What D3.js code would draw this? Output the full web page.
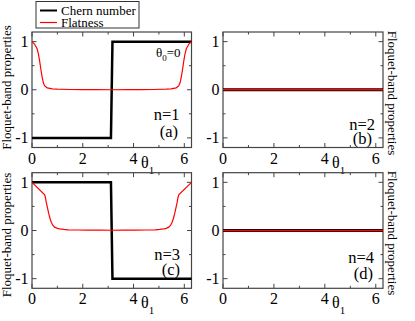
<!DOCTYPE html>
<html>
<head>
<meta charset="utf-8">
<script src="https://cdn.jsdelivr.net/npm/d3@7"></script>
<style>
  body { margin: 0; background: #fff; }
</style>
</head>
<body>
<script>
// datos
var xTicks = [0, 2, 4, 6];
var xMinor = [1, 3, 5];
var yTicks = [-1, 0, 1];
var yMinor = [-0.5, 0.5];

var thetaChern = [0, 3.11, 3.17, 6.283];
var chernN1 = [-1, -1, 1, 1];
var chernN3 = [1, 1, -1, -1];

var thetaZero = [0, 6.283];
var chernN2 = [0, 0];
var flatN2 = [0, 0];
var chernN4 = [0, 0];
var flatN4 = [0, 0];

var thetaN1 = [0, 0.1, 0.2, 0.25, 0.3, 0.35, 0.4, 0.45, 0.5, 0.6, 0.8, 1.0, 1.5, 2.0, 2.5, 3.14,
               3.78, 4.28, 4.78, 5.28, 5.48, 5.68, 5.78, 5.83, 5.88, 5.93, 5.98, 6.03, 6.08, 6.18, 6.283];
var flatN1 = [1.0, 0.95, 0.85, 0.75, 0.6, 0.42, 0.26, 0.14, 0.08, 0.04, 0.02, 0.012, 0.005, 0.002, 0.001, 0.0,
              0.001, 0.002, 0.005, 0.012, 0.02, 0.04, 0.08, 0.14, 0.26, 0.42, 0.6, 0.75, 0.85, 0.95, 1.0];

var thetaN3 = [0, 0.5, 0.53, 0.56, 0.61, 0.66, 0.71, 0.76, 0.82, 0.89, 1.0, 1.09, 1.25, 1.42, 1.8, 2.2, 2.7, 3.14,
               3.58, 4.08, 4.48, 4.86, 5.03, 5.19, 5.28, 5.39, 5.46, 5.52, 5.57, 5.62, 5.67, 5.72, 5.75, 5.78, 6.283];
var flatN3 = [1, 0.74, 0.68, 0.59, 0.47, 0.35, 0.25, 0.17, 0.11, 0.07, 0.045, 0.035, 0.022, 0.015, 0.01, 0.008, 0.006, 0.005,
              0.006, 0.008, 0.01, 0.015, 0.022, 0.035, 0.045, 0.07, 0.11, 0.17, 0.25, 0.35, 0.47, 0.59, 0.68, 0.74, 1];

var nLabels = ["n=1", "n=2", "n=3", "n=4"];
var panelLabels = ["(a)", "(b)", "(c)", "(d)"];
var legendNames = ["Chern number", "Flatness"];
var yTitle = "Floquet-band properties";

// paneles
var paneles = [
  { x0: 32, x1: 191.5, y0: 32, y1: 147.5, tc: thetaChern, c: chernN1, tf: thetaN1, f: flatN1,
    nx: 179.5, ny: 120, px: 178, py: 136.5, side: "left", ty: 87.5 },
  { x0: 223, x1: 383, y0: 32, y1: 147.5, tc: thetaZero, c: chernN2, tf: thetaZero, f: flatN2,
    nx: 375, ny: 129.5, px: 372, py: 143.5, side: "right", ty: 93 },
  { x0: 32, x1: 191.5, y0: 172.7, y1: 288.3, tc: thetaChern, c: chernN3, tf: thetaN3, f: flatN3,
    nx: 180, ny: 260, px: 180, py: 275, side: "left", ty: 235 },
  { x0: 223, x1: 383, y0: 172.7, y1: 288.3, tc: thetaZero, c: chernN4, tf: thetaZero, f: flatN4,
    nx: 374, ny: 263, px: 373, py: 278.5, side: "right", ty: 233 }
];

var fuente = "'Liberation Serif', 'Times New Roman', 'DejaVu Serif', serif";

var svg = d3.select("body").append("svg")
  .attr("width", 415)
  .attr("height", 321)
  .attr("font-family", fuente)
  .style("font-family", fuente);

var frameColor = "#444";

paneles.forEach(function(p, i) {
  var xScale = d3.scaleLinear().domain([0, 2 * Math.PI]).range([p.x0, p.x1]);
  var yScale = d3.scaleLinear().domain([-1.2, 1.2]).range([p.y1, p.y0]);
  var g = svg.append("g");

  // marco
  g.append("rect")
    .attr("x", p.x0).attr("y", p.y0)
    .attr("width", p.x1 - p.x0).attr("height", p.y1 - p.y0)
    .attr("fill", "none").attr("stroke", frameColor).attr("stroke-width", 1.2);

  // ticks x (hacia dentro, arriba y abajo)
  var xt = xTicks.map(function(v) { return { v: v, l: 4.5 }; })
    .concat(xMinor.map(function(v) { return { v: v, l: 2.5 }; }));
  g.selectAll(".xtb").data(xt).enter().append("line")
    .attr("x1", d => xScale(d.v)).attr("x2", d => xScale(d.v))
    .attr("y1", p.y1).attr("y2", d => p.y1 - d.l)
    .attr("stroke", frameColor);
  g.selectAll(".xtt").data(xt).enter().append("line")
    .attr("x1", d => xScale(d.v)).attr("x2", d => xScale(d.v))
    .attr("y1", p.y0).attr("y2", d => p.y0 + d.l)
    .attr("stroke", frameColor);

  // ticks y
  var yt = yTicks.map(function(v) { return { v: v, l: 4.5 }; })
    .concat(yMinor.map(function(v) { return { v: v, l: 2.5 }; }));
  g.selectAll(".ytl").data(yt).enter().append("line")
    .attr("y1", d => yScale(d.v)).attr("y2", d => yScale(d.v))
    .attr("x1", p.x0).attr("x2", d => p.x0 + d.l)
    .attr("stroke", frameColor);
  g.selectAll(".ytr").data(yt).enter().append("line")
    .attr("y1", d => yScale(d.v)).attr("y2", d => yScale(d.v))
    .attr("x1", p.x1).attr("x2", d => p.x1 - d.l)
    .attr("stroke", frameColor);

  // etiquetas de ticks
  g.selectAll(".xl").data(xTicks).enter().append("text")
    .attr("x", d => xScale(d)).attr("y", p.y1 + 16)
    .attr("text-anchor", "middle").attr("font-size", 16)
    .text(d => d);
  g.selectAll(".yl").data(yTicks).enter().append("text")
    .attr("x", p.x0 - 3.5).attr("y", d => yScale(d) + 5.5)
    .attr("text-anchor", "end").attr("font-size", 16)
    .text(d => d);

  // titulo eje x
  var xt1 = g.append("text")
    .attr("x", p.x0 + 109).attr("y", p.y1 + 20)
    .attr("font-size", 16);
  xt1.append("tspan").text("θ");
  xt1.append("tspan").attr("dy", 6).attr("font-size", 11).text("1");

  // titulo eje y
  if (p.side === "left") {
    g.append("text")
      .attr("transform", "translate(11," + p.ty + ") rotate(-90)")
      .attr("text-anchor", "middle").attr("font-size", 13)
      .text(yTitle);
  } else {
    g.append("text")
      .attr("transform", "translate(388," + p.ty + ") rotate(90)")
      .attr("text-anchor", "middle").attr("font-size", 13)
      .text(yTitle);
  }

  var line = d3.line()
    .x(d => xScale(d[0]))
    .y(d => yScale(d[1]));

  var zero = p.c.every(v => v === 0);

  // numero de Chern
  g.append("path")
    .datum(d3.zip(p.tc, p.c))
    .attr("d", line)
    .attr("fill", "none")
    .attr("stroke", "#000")
    .attr("stroke-width", zero ? 3.2 : 2.5);

  // flatness
  g.append("path")
    .datum(d3.zip(p.tf, p.f))
    .attr("d", line)
    .attr("fill", "none")
    .attr("stroke", "#ff0000")
    .attr("stroke-width", zero ? 1.6 : 1.2);

  // etiquetas n y panel
  g.append("text")
    .attr("x", p.nx).attr("y", p.ny)
    .attr("text-anchor", "end").attr("font-size", 16.5)
    .text(nLabels[i]);
  g.append("text")
    .attr("x", p.px).attr("y", p.py)
    .attr("text-anchor", "end").attr("font-size", 16.5)
    .text(panelLabels[i]);
});

// theta_0 = 0 en el panel (a)
var th0 = svg.append("text")
  .attr("x", 156).attr("y", 56.5)
  .attr("font-size", 13);
th0.append("tspan").text("θ");
th0.append("tspan").attr("dy", 4).attr("font-size", 9).text("0");
th0.append("tspan").attr("dy", -4).text("=0");

// leyenda
var leg = svg.append("g");
leg.append("rect")
  .attr("x", 36).attr("y", 1.5)
  .attr("width", 103).attr("height", 26.5)
  .attr("fill", "#fff").attr("stroke", "#333").attr("stroke-width", 1);
var legColors = ["#000", "#ff0000"];
var legWidths = [2, 1.2];
leg.selectAll(".ll").data(legendNames).enter().append("line")
  .attr("x1", 40).attr("x2", 57)
  .attr("y1", (d, i) => 10.5 + i * 12).attr("y2", (d, i) => 10.5 + i * 12)
  .attr("stroke", (d, i) => legColors[i])
  .attr("stroke-width", (d, i) => legWidths[i]);
leg.selectAll(".lt").data(legendNames).enter().append("text")
  .attr("x", 61).attr("y", (d, i) => 14.5 + i * 12)
  .attr("font-size", 13)
  .text(d => d);
</script>
</body>
</html>
